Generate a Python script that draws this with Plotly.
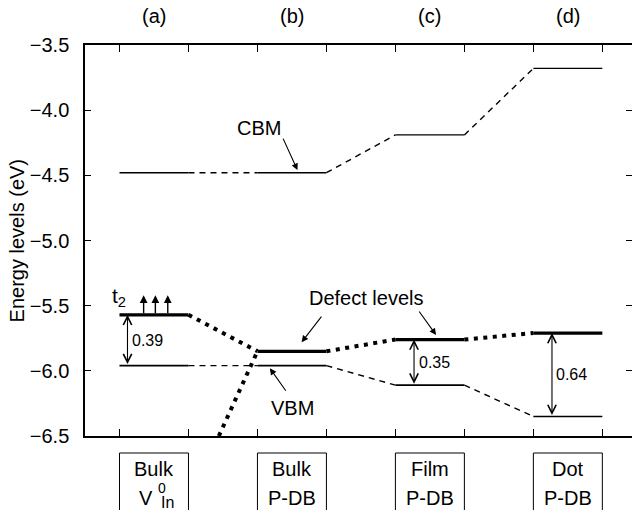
import plotly.graph_objects as go

# ---------------- data ----------------
panel_labels = ["(a)", "(b)", "(c)", "(d)"]
box_top = ["Bulk", "Bulk", "Film", "Dot"]
box_bottom = ["", "P-DB", "P-DB", "P-DB"]
cbm = [-4.48, -4.48, -4.19, -3.68]
vbm = [-5.96, -5.96, -6.11, -6.35]
defect = [-5.57, -5.85, -5.76, -5.71]      # t2 level for (a), defect levels for (b)-(d)
gap_labels = ["0.39", None, "0.35", "0.64"]
rise_start = (2.44, -6.50)                  # dotted line entering from below into (b)
yticks = [-3.5, -4.0, -4.5, -5.0, -5.5, -6.0, -6.5]
xticks = [1, 2, 3, 4, 5, 6, 7, 8]

FONT = "Liberation Sans, Arial, sans-serif"
fig = go.Figure()

def seg(x, y, width, dash="solid", color="black"):
    fig.add_trace(go.Scatter(x=x, y=y, mode="lines", showlegend=False, hoverinfo="skip",
                             line=dict(color=color, width=width, dash=dash)))

n = len(panel_labels)
for i in range(n):
    x0, x1 = 2 * i + 1, 2 * i + 2
    seg([x0, x1], [cbm[i], cbm[i]], 1.3)
    seg([x0, x1], [vbm[i], vbm[i]], 1.6)
    seg([x0, x1], [defect[i], defect[i]], 3.2)
    if i < n - 1:
        seg([x1, x1 + 1], [cbm[i], cbm[i + 1]], 1.4, "6px,5px")
        seg([x1, x1 + 1], [vbm[i], vbm[i + 1]], 1.4, "6px,5px")
        seg([x1, x1 + 1], [defect[i], defect[i + 1]], 4, "4px,5.5px")

# dotted line rising from below the axis into the (b) defect level
seg([rise_start[0], 3], [rise_start[1], defect[1]], 4, "4px,5.5px")

# hidden trace so the mirrored tick axes (top / right) are drawn
fig.add_trace(go.Scatter(x=[None], y=[None], xaxis="x2", yaxis="y2", showlegend=False,
                         hoverinfo="skip"))

ann = []
AC = "black"
# double-headed gap arrows and labels
gap_x = [1.116, None, 5.27, 7.27]
lab_x = [1.41, None, 5.57, 7.55]
for i in range(n):
    if gap_labels[i] is None:
        continue
    ann.append(dict(x=gap_x[i], y=defect[i], ax=gap_x[i], ay=vbm[i], axref="x", ayref="y",
                    xref="x", yref="y", showarrow=True, arrowhead=5, startarrowhead=5,
                    arrowside="end+start", arrowsize=1.5, startarrowsize=1.5, arrowwidth=1.1,
                    arrowcolor=AC, standoff=0, startstandoff=0, text=""))
    ann.append(dict(x=lab_x[i], y=(defect[i] + vbm[i]) / 2, text=gap_labels[i],
                    showarrow=False, font=dict(size=16)))

# spin arrows above t2
for xs in [1.35, 1.52, 1.70]:
    ann.append(dict(x=xs, y=-5.42, ax=xs, ay=defect[0], axref="x", ayref="y", xref="x", yref="y",
                    showarrow=True, arrowhead=2, arrowsize=1.1, arrowwidth=1.4, arrowcolor=AC,
                    standoff=0, text=""))
ann.append(dict(x=0.86, y=-5.43, xanchor="left", yanchor="middle", text="t<sub>2</sub>",
                showarrow=False, font=dict(size=21)))

# labelled pointer arrows
ptr = dict(showarrow=True, arrowhead=2, arrowsize=1.2, arrowwidth=1.1, arrowcolor=AC,
           standoff=0, text="")
ann.append(dict(x=3.58, y=-4.46, ax=-15, ay=-33, **ptr))
ann.append(dict(x=3.02, y=-4.137, text="CBM", showarrow=False, font=dict(size=20)))
ann.append(dict(x=3.64, y=-5.78, ax=21, ay=-27, **ptr))
ann.append(dict(x=5.59, y=-5.725, ax=-18, ay=-25, **ptr))
ann.append(dict(x=4.585, y=-5.44, text="Defect levels", showarrow=False, font=dict(size=20)))
ann.append(dict(x=3.18, y=-5.98, ax=17, ay=24, **ptr))
ann.append(dict(x=3.51, y=-6.286, text="VBM", showarrow=False, font=dict(size=20)))

# y-axis title
ann.append(dict(x=-0.1245, y=0.5, xref="paper", yref="paper", text="Energy levels (eV)",
                textangle=-90, showarrow=False, xanchor="center", yanchor="middle",
                font=dict(size=20)))

# panel labels at top, and boxes at bottom
shapes = []
lab = dict(xref="x", yref="paper", showarrow=False, yanchor="middle", xanchor="center")
for i in range(n):
    xc = 2 * i + 1.5
    ann.append(dict(x=xc, y=1.074, text=panel_labels[i], font=dict(size=20), **lab))
    shapes.append(dict(type="rect", xref="x", yref="paper", x0=2 * i + 1, x1=2 * i + 2,
                       y0=-0.0435, y1=-0.4, line=dict(color="black", width=1)))
    ann.append(dict(x=xc, y=-0.0844, text=box_top[i], font=dict(size=20), **lab))
    if box_bottom[i]:
        ann.append(dict(x=xc, y=-0.159, text=box_bottom[i], font=dict(size=20), **lab))
# V_In^0 label
ann.append(dict(x=1.39, y=-0.159, text="V", font=dict(size=20), **lab))
ann.append(dict(x=1.62, y=-0.132, text="0", font=dict(size=14), **lab))
ann.append(dict(x=1.69, y=-0.170, text="In", font=dict(size=16), **lab))

fig.update_layout(
    width=632, height=510,
    margin=dict(l=85, r=0, t=45, b=74, autoexpand=False),
    paper_bgcolor="white", plot_bgcolor="white",
    font=dict(family=FONT, color="black", size=20),
    showlegend=False,
    annotations=ann, shapes=shapes,
    xaxis=dict(range=[0.5, 8.43], tickvals=xticks, ticks="inside", ticklen=7, tickwidth=1.2,
               tickcolor="black", showticklabels=False, showline=True, linecolor="black",
               linewidth=1.5, mirror=True, showgrid=False, zeroline=False, automargin=False),
    xaxis2=dict(range=[0.5, 8.43], tickvals=xticks, overlaying="x", side="top", anchor="y",
                ticks="inside", ticklen=7, tickwidth=1.2, tickcolor="black", showline=False,
                showticklabels=False, showgrid=False, zeroline=False),
    yaxis=dict(range=[-6.5, -3.5], tickvals=yticks, tickformat=".1f", ticks="inside",
               ticklen=6, tickwidth=1.2, tickcolor="black", showline=True, linecolor="black",
               linewidth=1.5, showgrid=False, zeroline=False, tickfont=dict(size=20),
               ticklabelstandoff=10, automargin=False),
    yaxis2=dict(range=[-6.5, -3.5], tickvals=yticks, overlaying="y", side="right", anchor="x",
                ticks="inside", ticklen=6, tickwidth=1.2, tickcolor="black", showline=False,
                showticklabels=False, showgrid=False, zeroline=False),
)

fig.write_html("out.html", config={"displayModeBar": False},
               post_script="document.body.style.margin='0';")
